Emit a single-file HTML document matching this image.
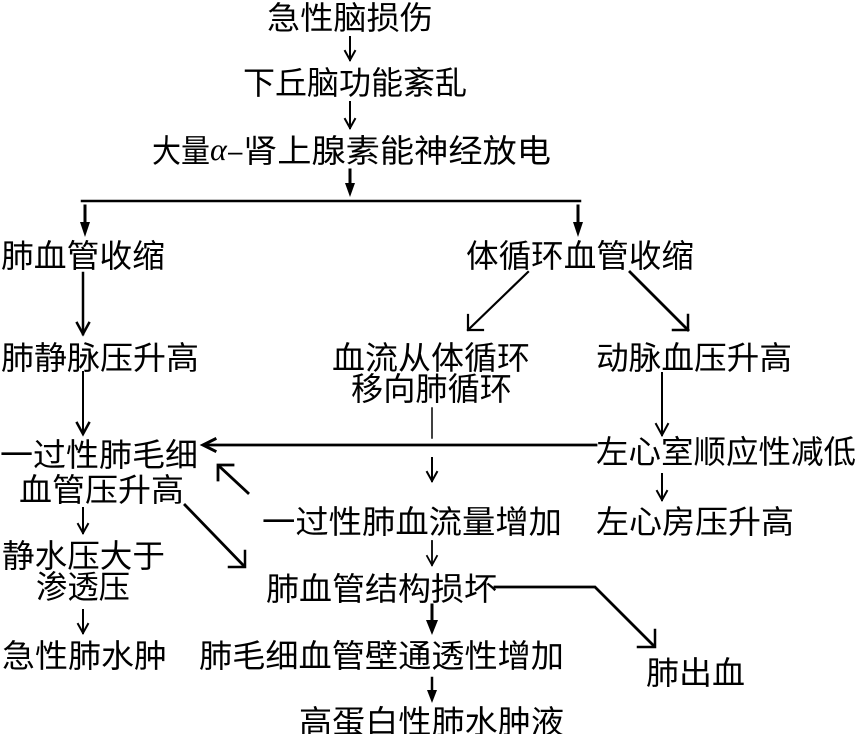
<!DOCTYPE html>
<html><head><meta charset="utf-8">
<style>
html,body{margin:0;padding:0;background:#fff;}
svg{display:block;}
text{font-family:"Liberation Sans","Noto Sans CJK SC","WenQuanYi Zen Hei",sans-serif;font-size:32px;fill:#000;}
</style></head>
<body>
<svg width="857" height="734" viewBox="0 0 857 734" xmlns="http://www.w3.org/2000/svg">
<rect width="857" height="734" fill="#fff"/>
<g>
<text x="267" y="29" textLength="166" lengthAdjust="spacingAndGlyphs">急性脑损伤</text>
<text x="243" y="94" textLength="224" lengthAdjust="spacingAndGlyphs">下丘脑功能紊乱</text>
<text x="152" y="162" textLength="58" lengthAdjust="spacingAndGlyphs">大量</text>
<text x="210" y="160" style="font-family:'Liberation Serif',serif;font-style:italic;font-size:32px">α</text>
<text x="228" y="160" style="font-family:'Liberation Sans',sans-serif;font-size:26px">–</text>
<text x="243" y="162" textLength="308" lengthAdjust="spacingAndGlyphs">肾上腺素能神经放电</text>

<text x="1" y="267" textLength="164" lengthAdjust="spacingAndGlyphs">肺血管收缩</text>
<text x="466" y="267" textLength="228" lengthAdjust="spacingAndGlyphs">体循环血管收缩</text>

<text x="1" y="369" textLength="198" lengthAdjust="spacingAndGlyphs">肺静脉压升高</text>
<text x="332" y="369" textLength="198" lengthAdjust="spacingAndGlyphs">血流从体循环</text>
<text x="351" y="400" textLength="161" lengthAdjust="spacingAndGlyphs">移向肺循环</text>
<text x="596" y="369" textLength="196" lengthAdjust="spacingAndGlyphs">动脉血压升高</text>

<text x="0" y="466" textLength="198" lengthAdjust="spacingAndGlyphs">一过性肺毛细</text>
<text x="19" y="501" textLength="165" lengthAdjust="spacingAndGlyphs">血管压升高</text>
<text x="596" y="463" textLength="260" lengthAdjust="spacingAndGlyphs">左心室顺应性减低</text>

<text x="262" y="533" textLength="300" lengthAdjust="spacingAndGlyphs">一过性肺血流量增加</text>
<text x="596" y="533" textLength="198" lengthAdjust="spacingAndGlyphs">左心房压升高</text>

<text x="2" y="567" textLength="163" lengthAdjust="spacingAndGlyphs">静水压大于</text>
<text x="36" y="598" textLength="94" lengthAdjust="spacingAndGlyphs">渗透压</text>
<text x="266" y="600" textLength="231" lengthAdjust="spacingAndGlyphs">肺血管结构损坏</text>

<text x="2" y="667" textLength="165" lengthAdjust="spacingAndGlyphs">急性肺水肿</text>
<text x="199" y="667" textLength="365" lengthAdjust="spacingAndGlyphs">肺毛细血管壁通透性增加</text>
<text x="646" y="684" textLength="99" lengthAdjust="spacingAndGlyphs">肺出血</text>
<text x="299" y="733" textLength="265" lengthAdjust="spacingAndGlyphs">高蛋白性肺水肿液</text>
</g>

<g stroke="#000" fill="none" stroke-linecap="square">
<line x1="350" y1="37" x2="350" y2="60" stroke-width="2"/>
<polyline points="345,51 350,60 355,51" stroke-width="2"/>
<line x1="350" y1="102" x2="350" y2="128" stroke-width="2"/>
<polyline points="345,119 350,128 355,119" stroke-width="2"/>
<line x1="350" y1="170" x2="350" y2="186" stroke-width="3"/>
<line x1="82" y1="201" x2="580" y2="201" stroke-width="2.5"/>
<line x1="85" y1="206" x2="85" y2="224" stroke-width="3"/>
<line x1="578" y1="206" x2="578" y2="224" stroke-width="3"/>

<line x1="83" y1="273" x2="83" y2="334" stroke-width="2.5"/>
<polyline points="77,323 83,334 89,323" stroke-width="2.5"/>
<line x1="83" y1="372" x2="83" y2="434" stroke-width="2"/>
<polyline points="77,423 83,434 89,423" stroke-width="2.5"/>
<line x1="83" y1="508" x2="83" y2="533" stroke-width="2"/>
<polyline points="78,524 83,533 88,524" stroke-width="2"/>
<line x1="83" y1="610" x2="83" y2="633" stroke-width="2"/>
<polyline points="78,624 83,633 88,624" stroke-width="2"/>

<line x1="528" y1="272" x2="468" y2="330" stroke-width="2.2"/>
<polyline points="468,315 468,330 483,330" stroke-width="2.2"/>
<line x1="630" y1="272" x2="688" y2="330" stroke-width="2.8"/>
<polyline points="688,315 688,330 673,330" stroke-width="2.5"/>

<line x1="662" y1="373" x2="662" y2="435" stroke-width="2"/>
<polyline points="656,424 662,435 668,424" stroke-width="2"/>
<line x1="662" y1="474" x2="662" y2="500" stroke-width="2"/>
<polyline points="657,491 662,500 667,491" stroke-width="2"/>

<line x1="432" y1="408" x2="432" y2="438" stroke-width="1.5"/>
<line x1="596" y1="445" x2="204" y2="445" stroke-width="2.8"/>
<polyline points="215,439 203,445 215,451" stroke-width="3"/>
<line x1="432" y1="458" x2="432" y2="481" stroke-width="2"/>
<polyline points="427,472 432,481 437,472" stroke-width="2"/>
<line x1="432" y1="541" x2="432" y2="565" stroke-width="1.8"/>
<polyline points="427,556 432,565 437,556" stroke-width="1.8"/>
<line x1="432" y1="605" x2="432" y2="622" stroke-width="3"/>
<line x1="432" y1="678" x2="432" y2="692" stroke-width="2.5"/>

<line x1="248" y1="493" x2="219" y2="466" stroke-width="2.8"/>
<polyline points="233,465 218,465 218,480" stroke-width="2.8"/>
<line x1="185" y1="505" x2="244" y2="566" stroke-width="2.8"/>
<polyline points="245,551 245,567 229,567" stroke-width="2.5"/>

<polyline points="495,587 595,587 654,646" stroke-width="2.8"/>
<polyline points="655,630 655,647 638,647" stroke-width="2.5"/>
</g>

<g fill="#000" stroke="none">
<polygon points="345,183 355,183 350,197"/>
<polygon points="80,222 90,222 85,237"/>
<polygon points="573,222 583,222 578,237"/>
<polygon points="426,620 438,620 432,635"/>
<polygon points="427,690 437,690 432,703"/>
</g>
</svg>
</body></html>
